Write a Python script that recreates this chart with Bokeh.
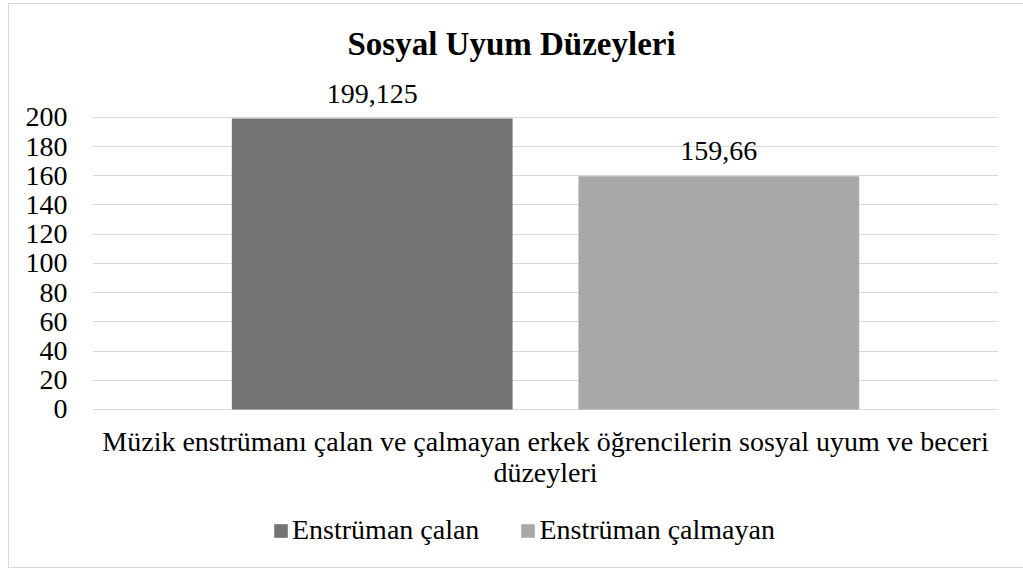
from bokeh.plotting import figure
from bokeh.models import (FactorRange, Range1d, FixedTicker, ColumnDataSource,
                          LabelSet, Label, Legend, LegendItem)
from bokeh.embed import file_html
from bokeh.resources import INLINE

# ---- data ----
series = ["Enstrüman çalan", "Enstrüman çalmayan"]
values = [199.125, 159.66]
colors = ["#737373", "#a8a8a8"]
y_ticks = [0, 20, 40, 60, 80, 100, 120, 140, 160, 180, 200]
title_text = "Sosyal Uyum Düzeyleri"
x_label_lines = ["Müzik enstrümanı çalan ve çalmayan erkek öğrencilerin sosyal uyum ve beceri",
                 "düzeyleri"]

labels = [str(v).replace(".", ",") for v in values]
src = ColumnDataSource(dict(x=series, top=values, color=colors, label=labels))

FONT = "Liberation Serif"

# layout (pixels)
FRAME_W = 906
PX_PER_UNIT = 1.46          # 200 units -> 292 px
TOP_EXTRA = 30              # value room above the 200 gridline for the labels
BOTTOM_PX = 158             # room below the zero line for axis title & legend
y_end = 200 + TOP_EXTRA
y_start = -BOTTOM_PX / PX_PER_UNIT
FRAME_H = int(round((y_end - y_start) * PX_PER_UNIT))

p = figure(frame_width=FRAME_W, frame_height=FRAME_H, output_backend="svg",
           toolbar_location=None,
           x_range=FactorRange(factors=series, range_padding=0.307,
                               range_padding_units="absolute"),
           y_range=Range1d(y_start, y_end),
           min_border_left=83, min_border_right=25,
           min_border_top=69, min_border_bottom=0)
p.styles = {"border": "1px solid #d9d9d9", "margin-left": "8px",
            "margin-top": "3px"}

r = p.vbar(x="x", top="top", bottom=0, width=0.81, fill_color="color",
           line_color=None, source=src)

p.title.text = title_text
p.title.text_font = FONT
p.title.text_font_size = "33px"
p.title.text_font_style = "bold"
p.title.align = "left"
p.title.offset = 255
p.title.standoff = 23
p.title.text_color = "#000000"

p.outline_line_color = None
p.xgrid.grid_line_color = None
p.ygrid.ticker = FixedTicker(ticks=y_ticks)
p.ygrid.grid_line_color = "#d9d9d9"
p.ygrid.grid_line_width = 1

p.yaxis.ticker = FixedTicker(ticks=y_ticks)
p.yaxis.axis_line_color = None
p.yaxis.major_tick_line_color = None
p.yaxis.minor_tick_line_color = None
p.yaxis.major_label_text_font = FONT
p.yaxis.major_label_text_font_size = "28px"
p.yaxis.major_label_text_color = "#000000"
p.yaxis.major_label_standoff = 19

p.xaxis.visible = False

# category axis title (two lines), placed under the zero line
for i, line in enumerate(x_label_lines):
    p.add_layout(Label(x=FRAME_W / 2, y=[126, 95][i], x_units="screen",
                       y_units="screen", text=line, text_align="center",
                       text_baseline="alphabetic", text_font=FONT,
                       text_font_size="28px", text_color="#000000"))

lbl = LabelSet(x="x", y="top", text="label", source=src, text_align="center",
               text_baseline="alphabetic", y_offset=16, text_font=FONT,
               text_font_size="28px", text_color="#000000")
p.add_layout(lbl)

items = [LegendItem(label=s, renderers=[r], index=i) for i, s in enumerate(series)]
legend = Legend(items=items, orientation="horizontal", location=(180, 21),
                label_text_font=FONT, label_text_font_size="28px",
                label_text_color="#000000", glyph_width=17, glyph_height=17,
                label_standoff=3, spacing=40, border_line_color=None,
                background_fill_alpha=0, margin=0, padding=0)
p.add_layout(legend, "center")

open("out.html", "w").write(file_html(p, INLINE))
